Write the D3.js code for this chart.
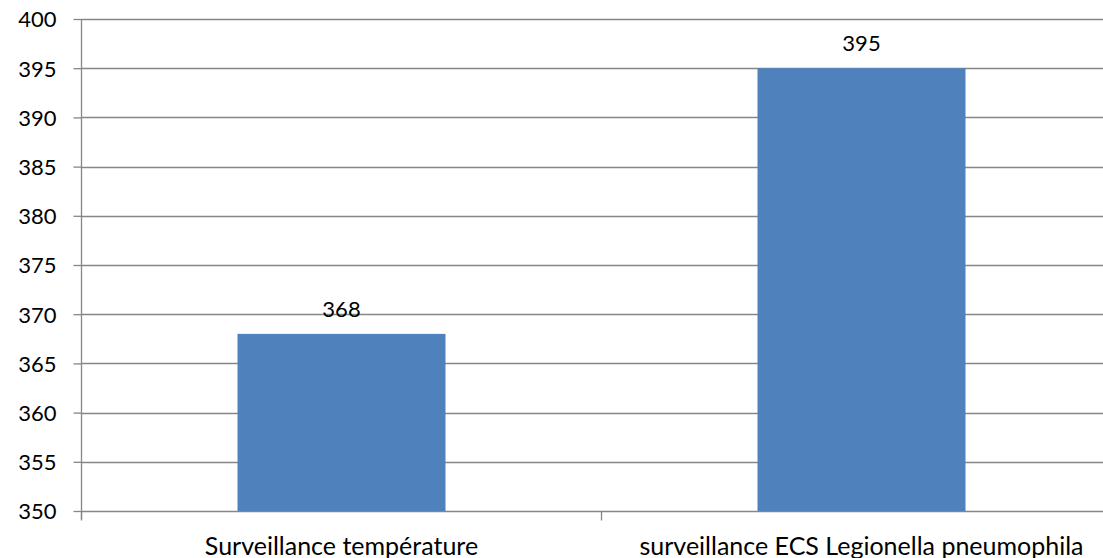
<!DOCTYPE html>
<html><head><meta charset="utf-8">
<script src="https://cdn.jsdelivr.net/npm/d3@7"></script>
<style>body{margin:0;background:#fff}svg{display:block}text{font-family:Lato,"Open Sans",sans-serif;fill:#000}</style>
</head><body>
<svg id="c" width="1103" height="558"></svg>
<script>
const categories = ["Surveillance température", "surveillance ECS Legionella pneumophila"];
const values = [368, 395];
const yTicks = [350, 355, 360, 365, 370, 375, 380, 385, 390, 395, 400];

const svg = d3.select("#c");
const pL = 81.5, pR = 1121.5, pT = 19, pB = 511;
const x = d3.scaleBand().domain(categories).range([pL, pR]).paddingInner(0.6).paddingOuter(0.3);
const y = d3.scaleLinear().domain([350, 400]).range([pB, pT]);
const grid = "#868686";

// gridlines
svg.append("g").selectAll("line").data(yTicks).join("line")
  .attr("x1", pL).attr("x2", 1103)
  .attr("y1", d => Math.round(y(d)) + 0.5).attr("y2", d => Math.round(y(d)) + 0.5)
  .attr("stroke", grid).attr("stroke-width", 1.3);

// bars
svg.append("g").selectAll("rect").data(values).join("rect")
  .attr("x", (d, i) => x(categories[i])).attr("width", x.bandwidth())
  .attr("y", d => y(d)).attr("height", d => pB - y(d))
  .attr("fill", "#4f81bd");

// y axis
const yAxis = d3.axisLeft(y).tickValues(yTicks).tickSize(8).tickPadding(17).tickFormat(d3.format("d"));
const gy = svg.append("g").attr("transform", `translate(${pL},0)`).call(yAxis);
gy.select(".domain").attr("stroke", grid).attr("stroke-width", 1.3).attr("d", `M0,${pT}V${pB + 8}`);
gy.selectAll(".tick line").attr("stroke", grid).attr("stroke-width", 1.3);
gy.selectAll(".tick text").style("font-size", "22px").attr("dy", "0.36em").attr("fill", "#000");

// x axis
const xAxis = d3.axisBottom(x).tickSize(0).tickPadding(0);
const gx = svg.append("g").attr("transform", `translate(0,${Math.round(pB) + 0.5})`).call(xAxis);
gx.select(".domain").remove();
gx.selectAll(".tick text").style("font-size", "25px").attr("y", 43).attr("dy", 0).attr("fill", "#000");
const bounds = [pL, (x(categories[0]) + x.bandwidth() + x(categories[1])) / 2];
gx.append("g").selectAll("line").data(bounds).join("line")
  .attr("x1", d => d).attr("x2", d => d).attr("y1", 0).attr("y2", 9)
  .attr("stroke", grid).attr("stroke-width", 1.3);

// value labels
svg.append("g").selectAll("text").data(values).join("text")
  .attr("x", (d, i) => x(categories[i]) + x.bandwidth() / 2)
  .attr("y", d => y(d) - 17)
  .attr("text-anchor", "middle").style("font-size", "22px")
  .text(d => d);
</script>
</body></html>
